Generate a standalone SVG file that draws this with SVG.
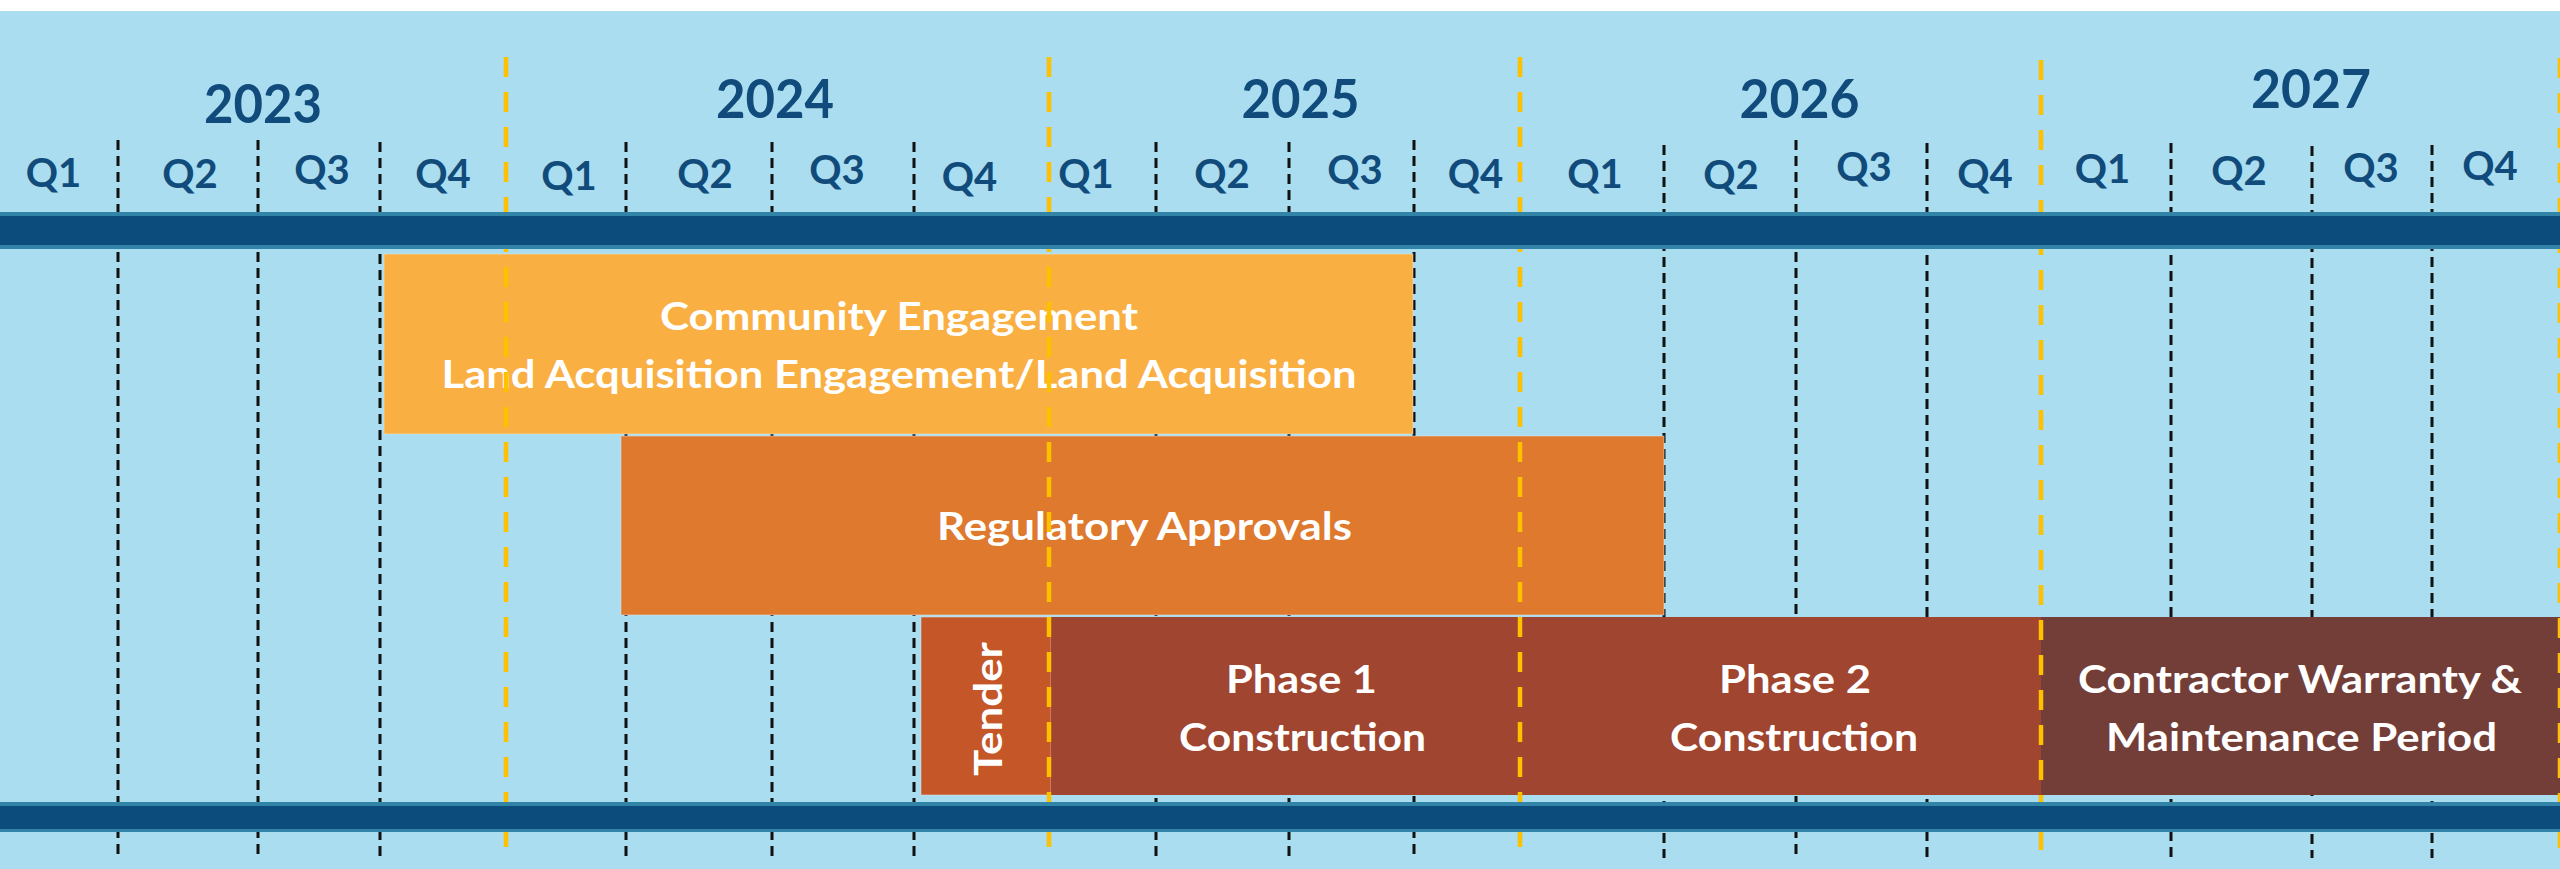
<svg xmlns="http://www.w3.org/2000/svg" width="2560" height="869" viewBox="0 0 2560 869">
<style>
.grid{stroke:#111;stroke-width:3;stroke-dasharray:10 6;fill:none}
.ygrid{stroke:#FFC000;stroke-width:4.5;stroke-dasharray:20 15;fill:none}
.yr{font-family:Lato,"Liberation Sans",sans-serif;font-weight:700;font-size:53px;fill:#104B7B;text-anchor:middle}
.q{font-family:Lato,"Liberation Sans",sans-serif;font-weight:700;font-size:40px;fill:#104B7B;text-anchor:middle}
.lbl{font-family:Lato,"Liberation Sans",sans-serif;font-weight:700;font-size:39px;fill:#fff;text-anchor:middle}
.bar{stroke:#E6EEF2;stroke-opacity:0.5;stroke-width:1}
</style>
<rect x="0" y="0" width="2560" height="869" fill="#fff"/>
<rect x="0" y="11" width="2560" height="858" fill="#A9DDEF"/>
<g id="gridlines">
<line class="grid" x1="118" y1="140" x2="118" y2="858"/>
<line class="grid" x1="258" y1="140" x2="258" y2="858"/>
<line class="grid" x1="380" y1="142" x2="380" y2="858"/>
<line class="grid" x1="626" y1="142" x2="626" y2="858"/>
<line class="grid" x1="772" y1="142" x2="772" y2="858"/>
<line class="grid" x1="914" y1="142" x2="914" y2="858"/>
<line class="grid" x1="1156" y1="142" x2="1156" y2="858"/>
<line class="grid" x1="1289" y1="142" x2="1289" y2="858"/>
<line class="grid" x1="1414" y1="140" x2="1414" y2="858"/>
<line class="grid" x1="1664" y1="145" x2="1664" y2="858"/>
<line class="grid" x1="1796" y1="140" x2="1796" y2="858"/>
<line class="grid" x1="1927" y1="143" x2="1927" y2="858"/>
<line class="grid" x1="2171" y1="143" x2="2171" y2="858"/>
<line class="grid" x1="2312" y1="146" x2="2312" y2="858"/>
<line class="grid" x1="2432" y1="145" x2="2432" y2="858"/>
</g>
<g id="community-engagement">
<rect class="bar" x="384" y="254" width="1029" height="180" fill="#FAAF42"/>
<text class="lbl" x="899" y="330" textLength="478" lengthAdjust="spacingAndGlyphs">Community Engagement</text>
<text class="lbl" x="899" y="388" textLength="915" lengthAdjust="spacingAndGlyphs">Land Acquisition Engagement/Land Acquisition</text>
</g>
<g id="regulatory-approvals">
<rect class="bar" x="621" y="436" width="1043" height="179" fill="#DE792E"/>
<text class="lbl" x="1144.5" y="540" textLength="415" lengthAdjust="spacingAndGlyphs">Regulatory Approvals</text>
</g>
<g id="tender">
<rect class="bar" x="921" y="617" width="130" height="178" fill="#C55628"/>
<text class="lbl" transform="translate(1002,709) rotate(-90)" x="0" y="0" font-size="40" textLength="134" lengthAdjust="spacingAndGlyphs">Tender</text>
</g>
<g id="phase-1">
<rect x="1051" y="617" width="495" height="178" fill="#A0452F"/>
<text class="lbl" x="1301.5" y="693" textLength="151" lengthAdjust="spacingAndGlyphs">Phase 1</text>
<text class="lbl" x="1302.5" y="751" textLength="247" lengthAdjust="spacingAndGlyphs">Construction</text>
</g>
<g id="phase-2">
<rect x="1545" y="617" width="496" height="178" fill="#A0452F"/>
<text class="lbl" x="1795" y="693" textLength="152" lengthAdjust="spacingAndGlyphs">Phase 2</text>
<text class="lbl" x="1794" y="751" textLength="248" lengthAdjust="spacingAndGlyphs">Construction</text>
</g>
<g id="warranty">
<rect x="2041" y="617" width="519" height="178" fill="#743E38"/>
<text class="lbl" x="2300" y="693" textLength="444" lengthAdjust="spacingAndGlyphs">Contractor Warranty &amp;</text>
<text class="lbl" x="2301.5" y="751" textLength="391" lengthAdjust="spacingAndGlyphs">Maintenance Period</text>
</g>
<g id="year-dividers">
<line class="ygrid" x1="506" y1="57" x2="506" y2="862"/>
<line class="ygrid" x1="1049" y1="57" x2="1049" y2="862"/>
<line class="ygrid" x1="1520" y1="57" x2="1520" y2="862"/>
<line class="ygrid" x1="2041" y1="60" x2="2041" y2="862"/>
<line class="ygrid" x1="2560" y1="58" x2="2560" y2="862"/>
</g>
<g id="top-band">
<rect x="0" y="212" width="2560" height="37" fill="#3283A8"/>
<rect x="0" y="216" width="2560" height="29" fill="#0C4C7C"/>
</g>
<g id="bottom-band">
<rect x="0" y="802" width="2560" height="30" fill="#3283A8"/>
<rect x="0" y="806" width="2560" height="23" fill="#0C4C7C"/>
</g>
<g id="years">
<text class="yr" x="263" y="123" textLength="118" lengthAdjust="spacingAndGlyphs">2023</text>
<text class="yr" x="775" y="118" textLength="118" lengthAdjust="spacingAndGlyphs">2024</text>
<text class="yr" x="1300.5" y="118" textLength="118" lengthAdjust="spacingAndGlyphs">2025</text>
<text class="yr" x="1799.5" y="118" textLength="120" lengthAdjust="spacingAndGlyphs">2026</text>
<text class="yr" x="2311" y="108" textLength="120" lengthAdjust="spacingAndGlyphs">2027</text>
</g>
<g id="quarters">
<text class="q" x="53.5" y="187">Q1</text>
<text class="q" x="190" y="188">Q2</text>
<text class="q" x="322" y="184">Q3</text>
<text class="q" x="443" y="188">Q4</text>
<text class="q" x="569" y="190">Q1</text>
<text class="q" x="705" y="188">Q2</text>
<text class="q" x="837" y="184">Q3</text>
<text class="q" x="969.5" y="191">Q4</text>
<text class="q" x="1086" y="188">Q1</text>
<text class="q" x="1222" y="188">Q2</text>
<text class="q" x="1355" y="184">Q3</text>
<text class="q" x="1475.5" y="188">Q4</text>
<text class="q" x="1595" y="188">Q1</text>
<text class="q" x="1731" y="189">Q2</text>
<text class="q" x="1864" y="181">Q3</text>
<text class="q" x="1985" y="188">Q4</text>
<text class="q" x="2102.5" y="183">Q1</text>
<text class="q" x="2239" y="185">Q2</text>
<text class="q" x="2371" y="182">Q3</text>
<text class="q" x="2490" y="180">Q4</text>
</g>
</svg>
